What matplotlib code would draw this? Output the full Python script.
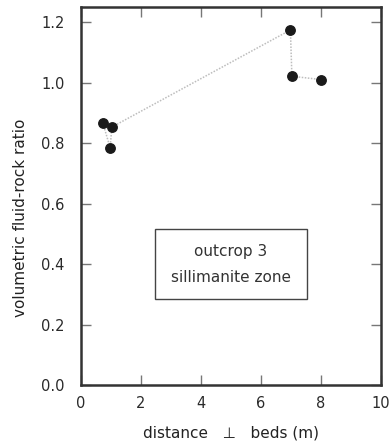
import matplotlib
matplotlib.use("Agg")
import matplotlib.pyplot as plt
from matplotlib.patches import Rectangle

# distance perpendicular to beds (m) and fluid-rock ratio, in drawing order
distance = [0.73, 0.97, 1.03, 6.98, 7.03, 8.0]
ratio = [0.866, 0.785, 0.853, 1.174, 1.021, 1.010]

x_ticks = [0, 2, 4, 6, 8, 10]
y_ticks = [0.0, 0.2, 0.4, 0.6, 0.8, 1.0, 1.2]

plt.rcParams["font.family"] = ["DejaVu Sans"]

fig = plt.figure(figsize=(3.89, 4.42), dpi=100)
ax = fig.add_axes([81 / 389, 1 - 385 / 442, 300 / 389, 378 / 442])

ax.plot(distance, ratio, color="#bdbdbd", linestyle=(0, (1, 1)), linewidth=1.1, zorder=1)
ax.plot(distance, ratio, "o", color="#1a1a1a", markersize=6.8, zorder=2)

ax.set_xlim(0, 10)
ax.set_ylim(0, 1.25)
ax.set_xticks(x_ticks)
ax.set_yticks(y_ticks)
ax.set_xticklabels([str(t) for t in x_ticks])
ax.set_yticklabels(["%.1f" % t for t in y_ticks])

for s in ax.spines.values():
    s.set_linewidth(1.8)
    s.set_color("#333333")

ax.tick_params(direction="in", length=7, width=1.0, colors="#777777",
               labelcolor="#2a2a2a", labelsize=10.5, top=True, right=True, pad=12)
ax.tick_params(axis="x", pad=8)

ax.set_xlabel("distance   \u22a5   beds (m)", fontsize=11, color="#222222")
ax.set_ylabel("volumetric fluid-rock ratio", fontsize=11, color="#222222")
ax.xaxis.set_label_coords(0.5, -0.108)
ax.yaxis.set_label_coords(-0.176, 0.442)

# label box
ax.add_patch(Rectangle((2.47, 0.285), 5.06, 0.232, fill=False,
                       edgecolor="#444444", linewidth=1.0, zorder=3))
ax.text(5.0, 0.443, "outcrop 3", ha="center", va="center", fontsize=11, color="#333333")
ax.text(5.0, 0.355, "sillimanite zone", ha="center", va="center", fontsize=11, color="#333333")

fig.savefig("out.png", dpi=100)
